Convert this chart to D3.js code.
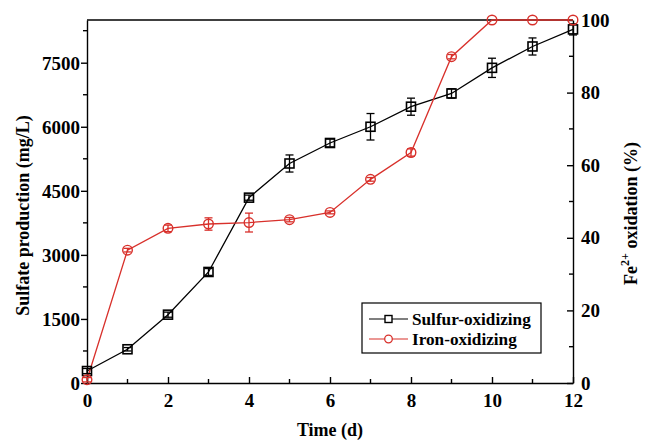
<!DOCTYPE html>
<html>
<head>
<meta charset="utf-8">
<script src="https://cdn.jsdelivr.net/npm/d3@7"></script>
<style>
  html, body { margin: 0; padding: 0; background: #fff; }
  svg { display: block; }
  text { font-family: "Liberation Serif", "Times New Roman", serif; font-weight: bold; fill: #000; }
</style>
</head>
<body>
<svg id="chart" width="647" height="444"></svg>
<script>
// ---- data ----
const days = [0, 1, 2, 3, 4, 5, 6, 7, 8, 9, 10, 11, 12];
const sulfurValues = [280, 790, 1600, 2600, 4340, 5140, 5620, 6000, 6470, 6780, 7380, 7880, 8280];
const sulfurErrors = [60, 40, 60, 80, 60, 200, 90, 310, 200, 110, 225, 200, 130];
const ironValues = [0.9, 36.6, 42.6, 43.8, 44.2, 45.0, 47.0, 56.1, 63.5, 89.9, 100, 100, 100];
const ironErrors = [0.6, 0.5, 0.9, 1.7, 2.6, 0.6, 0.4, 0.5, 1.0, 0.6, 0, 0, 0];
const xTicks = [0, 2, 4, 6, 8, 10, 12];
const leftTicks = [0, 1500, 3000, 4500, 6000, 7500];
const rightTicks = [0, 20, 40, 60, 80, 100];
const seriesNames = ["Sulfur-oxidizing", "Iron-oxidizing"];

const RED = "#d8302b";
const svg = d3.select("#chart");
const L = 87, R = 573, T = 20, B = 383;

const x = d3.scaleLinear().domain([0, 12]).range([L, R]);
const yL = d3.scaleLinear().domain([0, 8500]).range([B, T]);
const yR = d3.scaleLinear().domain([0, 100]).range([B, T]);

// frame top line
svg.append("line").attr("x1", L).attr("x2", R).attr("y1", T).attr("y2", T)
  .attr("stroke", "#000").attr("stroke-width", 1.4);

function styleAxis(g) {
  g.selectAll("path.domain").attr("stroke", "#000").attr("stroke-width", 1.4);
  g.selectAll(".tick line").attr("stroke", "#000").attr("stroke-width", 1.4);
  g.selectAll(".tick text").style("font-size", "19px").style("font-family", "'Liberation Serif', serif").style("font-weight", "bold");
}

// left axis (outward ticks)
const gL = svg.append("g").attr("transform", `translate(${L},0)`)
  .call(d3.axisLeft(yL).tickValues(leftTicks).tickSizeInner(6).tickSizeOuter(0).tickPadding(1).tickFormat(d3.format("d")));
styleAxis(gL);
gL.selectAll(".tick text").attr("dy", "0.36em");
// left minor ticks
svg.append("g").selectAll("line").data(d3.range(750, 8500, 1500)).join("line")
  .attr("x1", L - 4).attr("x2", L).attr("y1", d => yL(d)).attr("y2", d => yL(d))
  .attr("stroke", "#000").attr("stroke-width", 1.4);

// bottom axis (inward ticks)
const gB = svg.append("g").attr("transform", `translate(0,${B})`)
  .call(d3.axisBottom(x).tickValues(xTicks).tickSizeInner(-6).tickSizeOuter(0).tickPadding(11).tickFormat(d3.format("d")));
styleAxis(gB);
svg.append("g").selectAll("line").data(d3.range(1, 12, 2)).join("line")
  .attr("x1", d => x(d)).attr("x2", d => x(d)).attr("y1", B - 4).attr("y2", B)
  .attr("stroke", "#000").attr("stroke-width", 1.4);

// right axis (inward ticks)
const gR = svg.append("g").attr("transform", `translate(${R},0)`)
  .call(d3.axisRight(yR).tickValues(rightTicks).tickSizeInner(-6).tickSizeOuter(0).tickPadding(8).tickFormat(d3.format("d")));
styleAxis(gR);
svg.append("g").selectAll("line").data(d3.range(10, 100, 20)).join("line")
  .attr("x1", R - 4).attr("x2", R).attr("y1", d => yR(d)).attr("y2", d => yR(d))
  .attr("stroke", "#000").attr("stroke-width", 1.4);

// axis titles
svg.append("text").attr("x", (L + R) / 2).attr("y", 436).attr("text-anchor", "middle")
  .style("font-size", "18px").text("Time (d)");
svg.append("text").attr("transform", `translate(29,${(T + B) / 2 + 14}) rotate(-90)`)
  .attr("text-anchor", "middle").style("font-size", "18px").text("Sulfate production (mg/L)");
const rt = svg.append("text").attr("transform", `translate(637,${(T + B) / 2 + 12}) rotate(-90)`)
  .attr("text-anchor", "middle").style("font-size", "18px");
rt.append("tspan").text("Fe");
rt.append("tspan").attr("dy", -8).style("font-size", "12px").text("2+");
rt.append("tspan").attr("dy", 8).text(" oxidation (%)");

// lines
const sData = days.map((d, i) => ({ x: d, y: sulfurValues[i], e: sulfurErrors[i] }));
const iData = days.map((d, i) => ({ x: d, y: ironValues[i], e: ironErrors[i] }));

svg.append("path").datum(sData)
  .attr("d", d3.line().x(d => x(d.x)).y(d => yL(d.y)))
  .attr("fill", "none").attr("stroke", "#000").attr("stroke-width", 1.3);
svg.append("path").datum(iData)
  .attr("d", d3.line().x(d => x(d.x)).y(d => yR(d.y)))
  .attr("fill", "none").attr("stroke", RED).attr("stroke-width", 1.3);

function errBars(data, yS, color) {
  const g = svg.append("g").attr("stroke", color).attr("stroke-width", 1.3);
  data.filter(d => d.e > 0).forEach(d => {
    const cx = x(d.x), y1 = yS(d.y - d.e), y2 = yS(d.y + d.e);
    g.append("line").attr("x1", cx).attr("x2", cx).attr("y1", y1).attr("y2", y2);
    g.append("line").attr("x1", cx - 4).attr("x2", cx + 4).attr("y1", y1).attr("y2", y1);
    g.append("line").attr("x1", cx - 4).attr("x2", cx + 4).attr("y1", y2).attr("y2", y2);
  });
}
errBars(sData, yL, "#000");
errBars(iData, yR, RED);

// markers
svg.append("g").selectAll("rect").data(sData).join("rect")
  .attr("x", d => x(d.x) - 4.5).attr("y", d => yL(d.y) - 4.5)
  .attr("width", 9).attr("height", 9)
  .attr("fill", "none").attr("stroke", "#000").attr("stroke-width", 1.6);
svg.append("g").selectAll("circle").data(iData).join("circle")
  .attr("cx", d => x(d.x)).attr("cy", d => yR(d.y)).attr("r", 4.8)
  .attr("fill", "none").attr("stroke", RED).attr("stroke-width", 1.4);

// legend
const lg = svg.append("g");
lg.append("rect").attr("x", 362).attr("y", 303).attr("width", 179).attr("height", 50)
  .attr("fill", "#fff").attr("stroke", "#000").attr("stroke-width", 1.2);
const rows = [
  { name: seriesNames[0], color: "#000", shape: "square", y: 319 },
  { name: seriesNames[1], color: RED, shape: "circle", y: 339 }
];
rows.forEach(r => {
  lg.append("line").attr("x1", 369).attr("x2", 408).attr("y1", r.y).attr("y2", r.y)
    .attr("stroke", r.color).attr("stroke-width", 1.2);
  if (r.shape === "square") {
    lg.append("rect").attr("x", 385).attr("y", r.y - 3.5).attr("width", 7).attr("height", 7)
      .attr("fill", "#fff").attr("stroke", r.color).attr("stroke-width", 1.4);
  } else {
    lg.append("circle").attr("cx", 388.5).attr("cy", r.y).attr("r", 3.8)
      .attr("fill", "#fff").attr("stroke", r.color).attr("stroke-width", 1.3);
  }
  lg.append("text").attr("x", 412).attr("y", r.y + 5.5).style("font-size", "17.2px").text(r.name);
});
</script>
</body>
</html>
